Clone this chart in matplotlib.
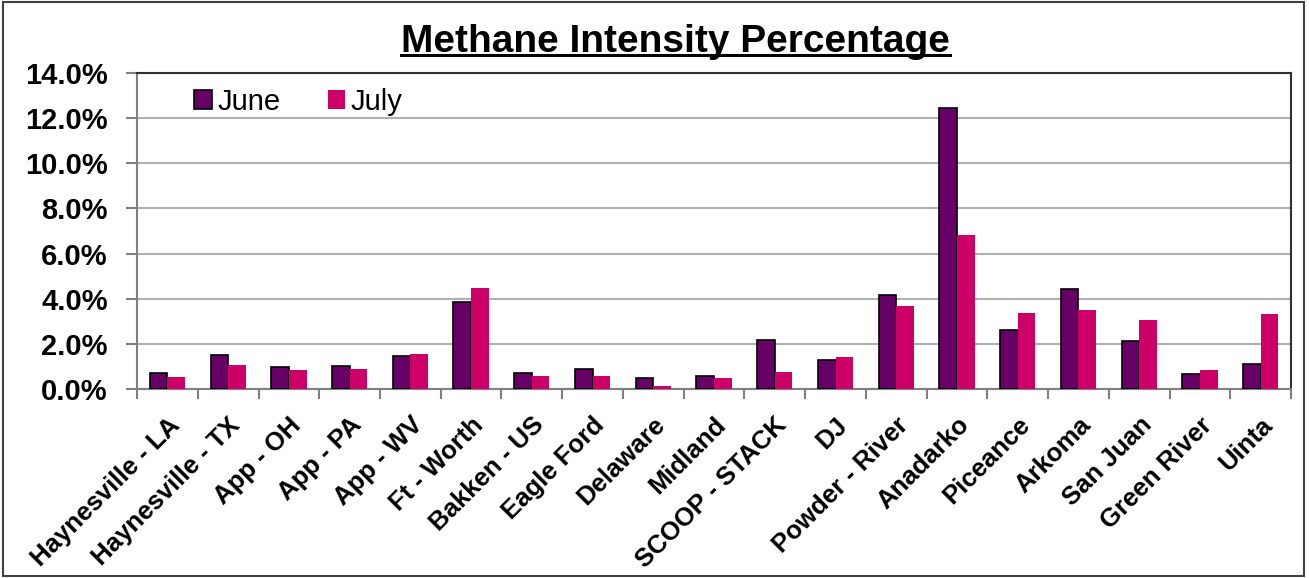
import matplotlib.pyplot as plt
import numpy as np
from matplotlib.lines import Line2D
from matplotlib.patches import Rectangle
from matplotlib.ticker import FuncFormatter, FixedLocator

basins = ["Haynesville - LA", "Haynesville - TX", "App - OH", "App - PA", "App - WV",
          "Ft - Worth", "Bakken - US", "Eagle Ford", "Delaware", "Midland",
          "SCOOP - STACK", "DJ", "Powder - River", "Anadarko", "Piceance",
          "Arkoma", "San Juan", "Green River", "Uinta"]
june = [0.73, 1.51, 0.97, 1.01, 1.47, 3.88, 0.73, 0.91, 0.50, 0.60,
        2.19, 1.28, 4.16, 12.46, 2.60, 4.43, 2.13, 0.68, 1.13]
july = [0.53, 1.09, 0.85, 0.90, 1.54, 4.46, 0.59, 0.57, 0.16, 0.48,
        0.76, 1.41, 3.69, 6.84, 3.36, 3.50, 3.05, 0.84, 3.31]

plt.rcParams['font.family'] = ['Liberation Sans', 'DejaVu Sans']

fig = plt.figure(figsize=(13.09, 5.78), dpi=100)
ax = fig.add_axes([0.1047, 0.3265, 0.8816, 0.5477])

x = np.arange(len(basins))
w = 0.29
ax.bar(x - w / 2, june, w, color='#660066', edgecolor='black', linewidth=1.2,
       label='June', zorder=3)
ax.bar(x + w / 2, july, w, color='#CC0066', label='July', zorder=3)

ax.set_xlim(-0.5, len(basins) - 0.5)
ax.set_ylim(0, 14)
ax.set_yticks(np.arange(0, 15, 2))
ax.yaxis.set_major_formatter(FuncFormatter(lambda v, p: f"{v:.1f}%"))
ax.grid(axis='y', color='#b0b0b0', linewidth=1.5, zorder=0)

# tick marks sit between categories, labels under each category
ax.set_xticks(x)
ax.set_xticklabels(basins, rotation=45, ha='right', rotation_mode='anchor',
                   fontsize=18.5, fontweight='bold')
ax.tick_params(axis='x', length=0, pad=17)
ax.xaxis.set_minor_locator(FixedLocator(np.arange(-0.5, len(basins), 1)))
ax.tick_params(axis='x', which='minor', length=7, width=1.5, color='#808080')
ax.tick_params(axis='y', labelsize=21, length=8, width=1.5, color='#808080', pad=13)
for lab in ax.get_yticklabels():
    lab.set_fontweight('bold')

ax.spines['left'].set_color('#808080')
ax.spines['bottom'].set_color('#808080')
ax.spines['top'].set_color('#303030')
ax.spines['right'].set_color('#303030')
for s in ax.spines.values():
    s.set_linewidth(1.5)

leg = ax.legend(loc='upper left', bbox_to_anchor=(0.027, 1.035), ncol=2, frameon=False,
                prop={'size': 21}, handlelength=0.6, handleheight=0.6,
                handletextpad=0.2, columnspacing=1.6)

title = fig.text(0.516, 0.91, "Methane Intensity Percentage", ha='center',
                 va='baseline', fontsize=28, fontweight='bold')

# underline under the title and a frame around the whole chart
fig.canvas.draw()
bb = title.get_window_extent().transformed(fig.transFigure.inverted())
fig.add_artist(Line2D([bb.x0, bb.x1], [0.905, 0.905], color='black', linewidth=2.2))
fig.add_artist(Rectangle((0.002, 0.003), 0.994, 0.994, fill=False,
                         edgecolor='#404040', linewidth=1.5, transform=fig.transFigure))

fig.savefig('out.png', dpi=100)
